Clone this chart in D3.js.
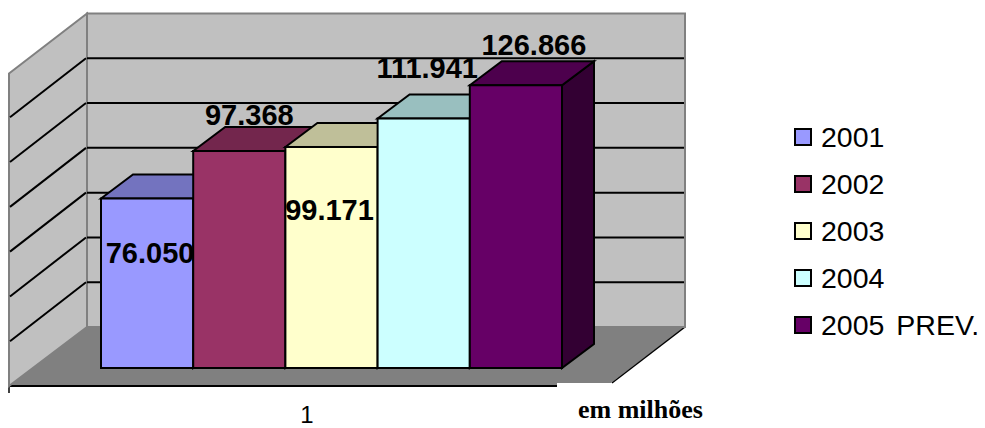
<!DOCTYPE html>
<html lang="pt">
<head>
    <meta charset="UTF-8">
    <title>em milhões</title>
    <script src="https://d3js.org/d3.v7.min.js"></script>
    <style>
        body { margin: 0; padding: 0; background: #fff; }
        svg { display: block; }
        text { font-family: "Liberation Sans", Arial, sans-serif; fill: #000; }
    </style>
</head>
<body>
<svg id="chart" width="985" height="428"></svg>
<script>
    const years = ["2001", "2002", "2003", "2004", "2005 PREV."];
    const values = [76050, 97368, 99171, 111941, 126866];
    const fills = ["#9999FF", "#993366", "#FFFFCC", "#CCFFFF", "#660066"];
    const yTicks = [0, 20000, 40000, 60000, 80000, 100000, 120000, 140000];
    const categoryLabel = "1";
    const unitLabel = "em milhões";

    const svg = d3.select("#chart");
    const fmt = d3.formatLocale({ decimal: ",", thousands: ".", grouping: [3], currency: ["", ""] }).format(",d");

    // 3D depth of the plot box and of the bars
    const wallDx = 78, wallDy = 59;
    const barDx = 32, barDy = 24;
    const backLeft = 87, backRight = 685;

    const yWall = d3.scaleLinear().domain([0, 140000]).range([327, 13.5]);
    const yBar = d3.scaleLinear().domain([0, 140000]).range([368, 56]);
    const x = d3.scaleBand().domain(years).range([101, 562]);

    // label position relative to the top centre of its bar
    const labelShift = [[3, 64], [10, -26], [-2, 73.5], [3.5, -41], [18, -30]];

    const line = d3.line();
    const wallBottom = yWall(0), wallTop = yWall(140000);

    // floor
    svg.append("path")
        .attr("d", line([[backLeft, wallBottom], [backRight, wallBottom], [backRight - wallDx, wallBottom + wallDy], [backLeft - wallDx, wallBottom + wallDy]]) + "Z")
        .attr("fill", "#808080");
    svg.append("rect")
        .attr("x", 557).attr("y", 383).attr("width", 70).attr("height", 12)
        .attr("fill", "#fff");
    svg.append("path")
        .attr("d", line([[612, 383], [backRight, wallBottom]]))
        .attr("fill", "none").attr("stroke", "#000").attr("stroke-width", 1.5);
    svg.append("path")
        .attr("d", line([[backLeft - wallDx, wallBottom + wallDy], [557, wallBottom + wallDy]]))
        .attr("fill", "none").attr("stroke", "#000").attr("stroke-width", 2);
    svg.append("path")
        .attr("d", line([[backLeft - wallDx, wallBottom + wallDy], [backLeft - wallDx, wallBottom + wallDy + 7]]))
        .attr("fill", "none").attr("stroke", "#000").attr("stroke-width", 1.5);

    // side and back walls
    svg.append("path")
        .attr("d", line([[backLeft - wallDx, wallTop + wallDy + 1], [backLeft, wallTop], [backLeft, wallBottom], [backLeft - wallDx, wallBottom + wallDy]]) + "Z")
        .attr("fill", "#C0C0C0").attr("stroke", "#808080").attr("stroke-width", 2);
    svg.append("rect")
        .attr("x", backLeft).attr("y", wallTop)
        .attr("width", backRight - backLeft).attr("height", wallBottom - wallTop)
        .attr("fill", "#C0C0C0").attr("stroke", "#808080").attr("stroke-width", 2);

    // gridlines
    const inner = yTicks.filter(t => t > 0 && t < 140000);
    svg.selectAll(".grid-back").data(inner).enter().append("line")
        .attr("class", "grid-back")
        .attr("x1", backLeft).attr("x2", backRight - 1)
        .attr("y1", d => yWall(d)).attr("y2", d => yWall(d))
        .attr("stroke", "#000").attr("stroke-width", 2);
    svg.selectAll(".grid-side").data(inner).enter().append("line")
        .attr("class", "grid-side")
        .attr("x1", backLeft - wallDx + 1).attr("x2", backLeft - 1)
        .attr("y1", d => yWall(d) + wallDy).attr("y2", d => yWall(d))
        .attr("stroke", "#000").attr("stroke-width", 2);

    // bars, left to right so each one hides the side of the previous
    const bars = svg.selectAll(".bar").data(values).enter().append("g").attr("class", "bar");
    const xl = (d, i) => x(years[i]);
    const xr = (d, i) => x(years[i]) + x.bandwidth();

    bars.append("path")
        .attr("d", (d, i) => line([[xr(d, i), yBar(d)], [xr(d, i) + barDx, yBar(d) - barDy], [xr(d, i) + barDx, yBar(0) - barDy], [xr(d, i), yBar(0)]]) + "Z")
        .attr("fill", (d, i) => d3.color(fills[i]).darker(1.95))
        .attr("stroke", "#000").attr("stroke-width", 2);
    bars.append("path")
        .attr("d", (d, i) => line([[xl(d, i), yBar(d)], [xl(d, i) + barDx, yBar(d) - barDy], [xr(d, i) + barDx, yBar(d) - barDy], [xr(d, i), yBar(d)]]) + "Z")
        .attr("fill", (d, i) => {
            const c = d3.rgb(fills[i]);
            return d3.rgb(c.r * 0.75, c.g * 0.75, c.b * 0.75);
        })
        .attr("stroke", "#000").attr("stroke-width", 2);
    bars.append("rect")
        .attr("x", xl)
        .attr("y", d => yBar(d))
        .attr("width", x.bandwidth())
        .attr("height", d => yBar(0) - yBar(d))
        .attr("fill", (d, i) => fills[i])
        .attr("stroke", "#000").attr("stroke-width", 2);

    // value labels
    svg.selectAll(".value").data(values).enter().append("text")
        .attr("class", "value")
        .attr("x", (d, i) => x(years[i]) + x.bandwidth() / 2 + labelShift[i][0])
        .attr("y", (d, i) => yBar(d) + labelShift[i][1])
        .attr("text-anchor", "middle")
        .attr("font-size", 29)
        .attr("font-weight", "bold")
        .text(d => fmt(d));

    // axis text, kept just inside the bottom edge
    svg.append("text").attr("x", 307).attr("y", 422.5)
        .attr("text-anchor", "middle").attr("font-size", 24).text(categoryLabel);
    svg.append("text").attr("x", 578).attr("y", 418)
        .attr("font-size", 26).attr("font-weight", "bold")
        .style("font-family", '"Liberation Serif", "Times New Roman", serif')
        .text(unitLabel);

    // legend
    const legendY = d3.scalePoint().domain(years).range([129, 317]);
    const legend = svg.selectAll(".legend").data(years).enter().append("g")
        .attr("class", "legend")
        .attr("transform", d => `translate(795,${legendY(d)})`);
    legend.append("rect")
        .attr("width", 16).attr("height", 16)
        .attr("fill", (d, i) => fills[i])
        .attr("stroke", "#000").attr("stroke-width", 2);
    legend.append("text")
        .attr("x", 26).attr("y", 18)
        .attr("font-size", 28.5)
        .attr("word-spacing", 4)
        .text(d => d);
</script>
</body>
</html>
